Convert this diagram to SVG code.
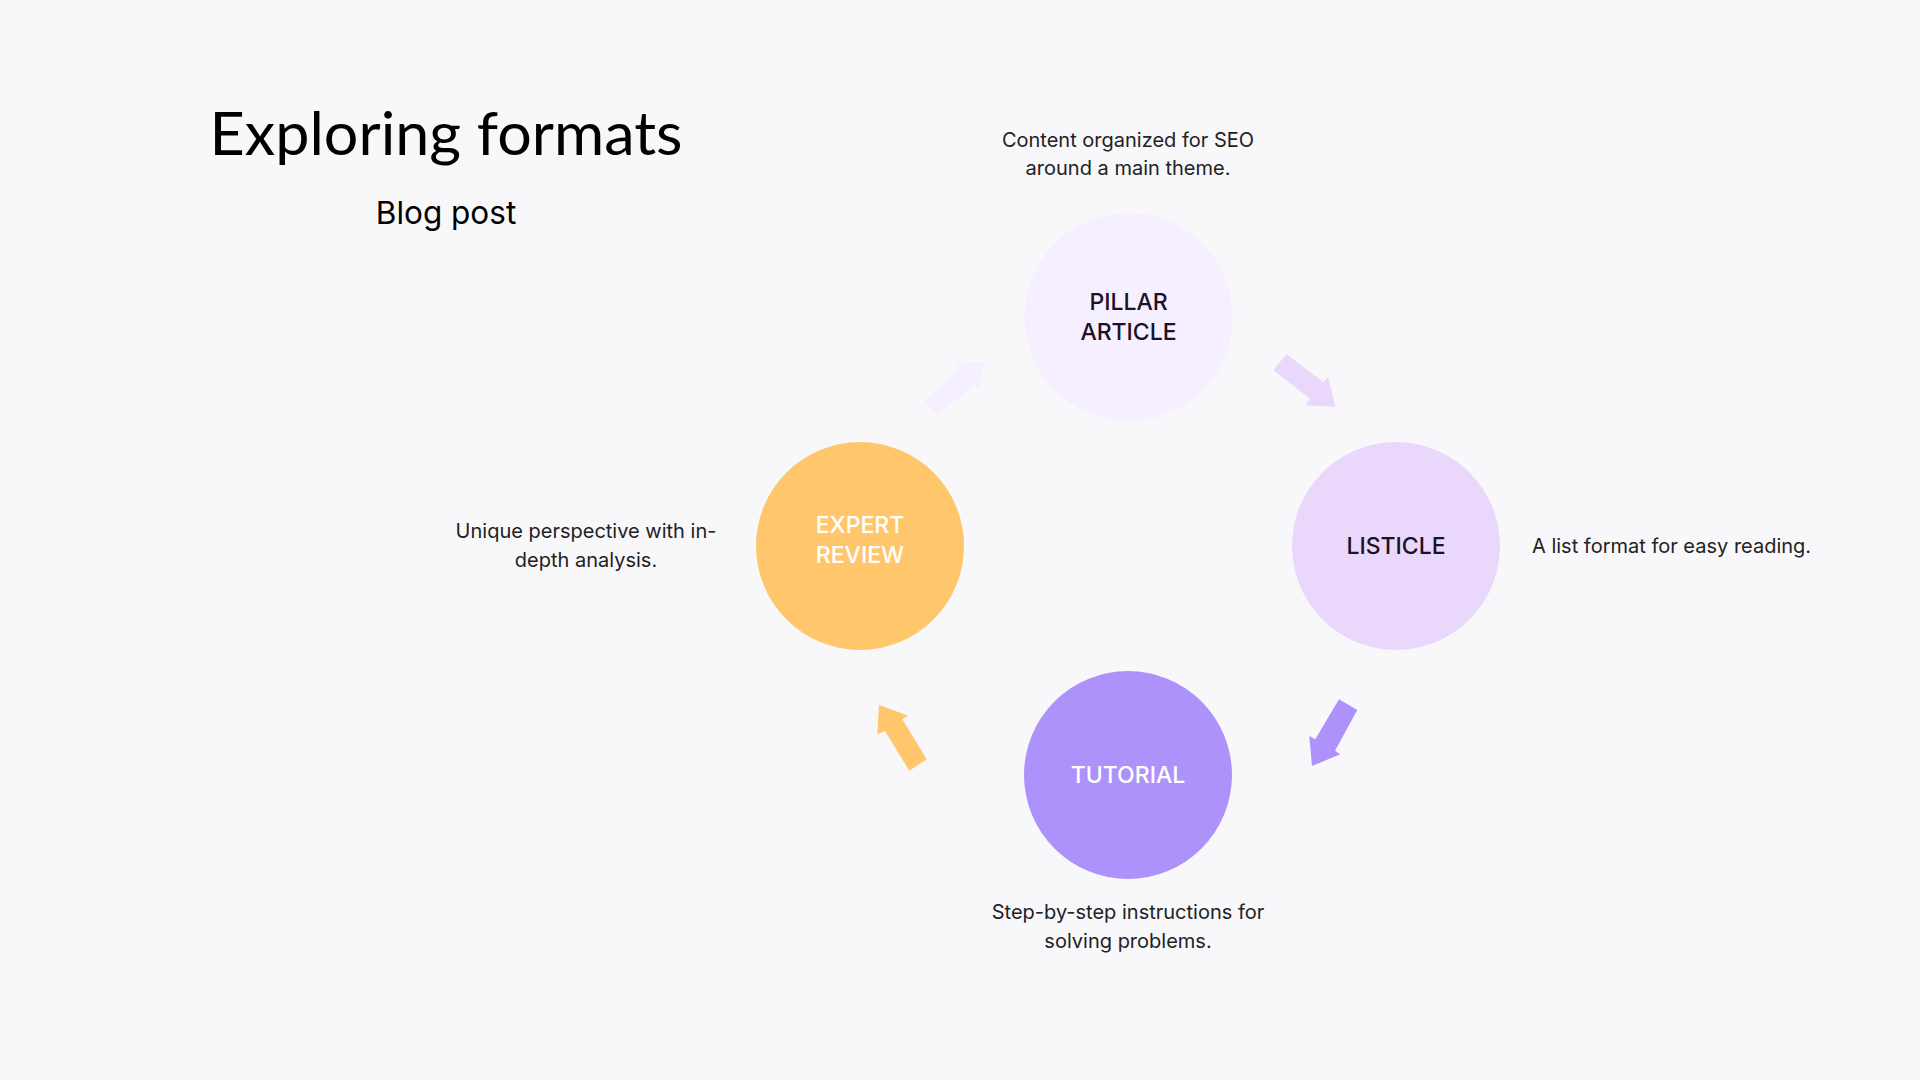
<svg xmlns="http://www.w3.org/2000/svg" width="1920" height="1080" viewBox="0 0 1920 1080">
  <style>
    .title { font-family: "Lato", "Inter", "Liberation Sans", sans-serif; font-size: 60px; fill: #000000; }
    .subtitle { font-family: "Inter", "Liberation Sans", sans-serif; font-size: 31.5px; fill: #000000; }
    .desc { font-family: "Inter", "Liberation Sans", sans-serif; font-size: 20px; fill: #222222; }
    .label { font-family: "Inter", "Liberation Sans", sans-serif; font-size: 23px; font-weight: 500; text-anchor: middle; }
    .dark { fill: #1d1127; }
    .light { fill: #ffffff; }
    .mid { text-anchor: middle; }
  </style>
  <rect x="0" y="0" width="1920" height="1080" fill="#f8f8fa"/>

  <g id="header">
    <text class="title" x="446" y="155" text-anchor="middle" textLength="473" lengthAdjust="spacingAndGlyphs">Exploring formats</text>
    <text class="subtitle" x="446" y="224" text-anchor="middle">Blog post</text>
  </g>

  <g id="connectors">
    <polygon fill="#f5efff" points="985,361 956,364 960,368.5 924.5,401 937.5,415.5 975,384.5 978,390.5"/>
    <polygon fill="#e9d8fc" points="1286.5,354 1273.5,370 1310,399 1305.5,405.5 1335.5,406.7 1328.2,376.7 1323.3,382.3"/>
    <polygon fill="#ae92fc" points="1357.3,710 1339,699.3 1315.3,739.3 1309.3,736 1312,766 1340.3,754.3 1335,750.7"/>
    <polygon fill="#ffc66b" points="879,705 908.3,715.7 902.3,719.3 926.7,759.3 909.3,770.7 885,731 877.3,734.3"/>
  </g>

  <g id="node-pillar-article">
    <circle cx="1128.5" cy="317" r="104" fill="#f5efff"/>
    <text class="label dark" x="1128.5" y="310">PILLAR</text>
    <text class="label dark" x="1128.5" y="340">ARTICLE</text>
    <text class="desc mid" x="1128" y="147">Content organized for SEO</text>
    <text class="desc mid" x="1128" y="175">around a main theme.</text>
  </g>

  <g id="node-listicle">
    <circle cx="1396" cy="546" r="104" fill="#e9d8fc"/>
    <text class="label dark" x="1396" y="554">LISTICLE</text>
    <text class="desc" x="1532" y="553">A list format for easy reading.</text>
  </g>

  <g id="node-tutorial">
    <circle cx="1128" cy="775" r="104" fill="#ae92fc"/>
    <text class="label light" x="1128" y="783">TUTORIAL</text>
    <text class="desc mid" x="1128" y="919">Step-by-step instructions for</text>
    <text class="desc mid" x="1128" y="948">solving problems.</text>
  </g>

  <g id="node-expert-review">
    <circle cx="860" cy="546" r="104" fill="#ffc66b"/>
    <text class="label light" x="860" y="533">EXPERT</text>
    <text class="label light" x="860" y="563">REVIEW</text>
    <text class="desc mid" x="586" y="538">Unique perspective with in-</text>
    <text class="desc mid" x="586" y="567">depth analysis.</text>
  </g>
</svg>
